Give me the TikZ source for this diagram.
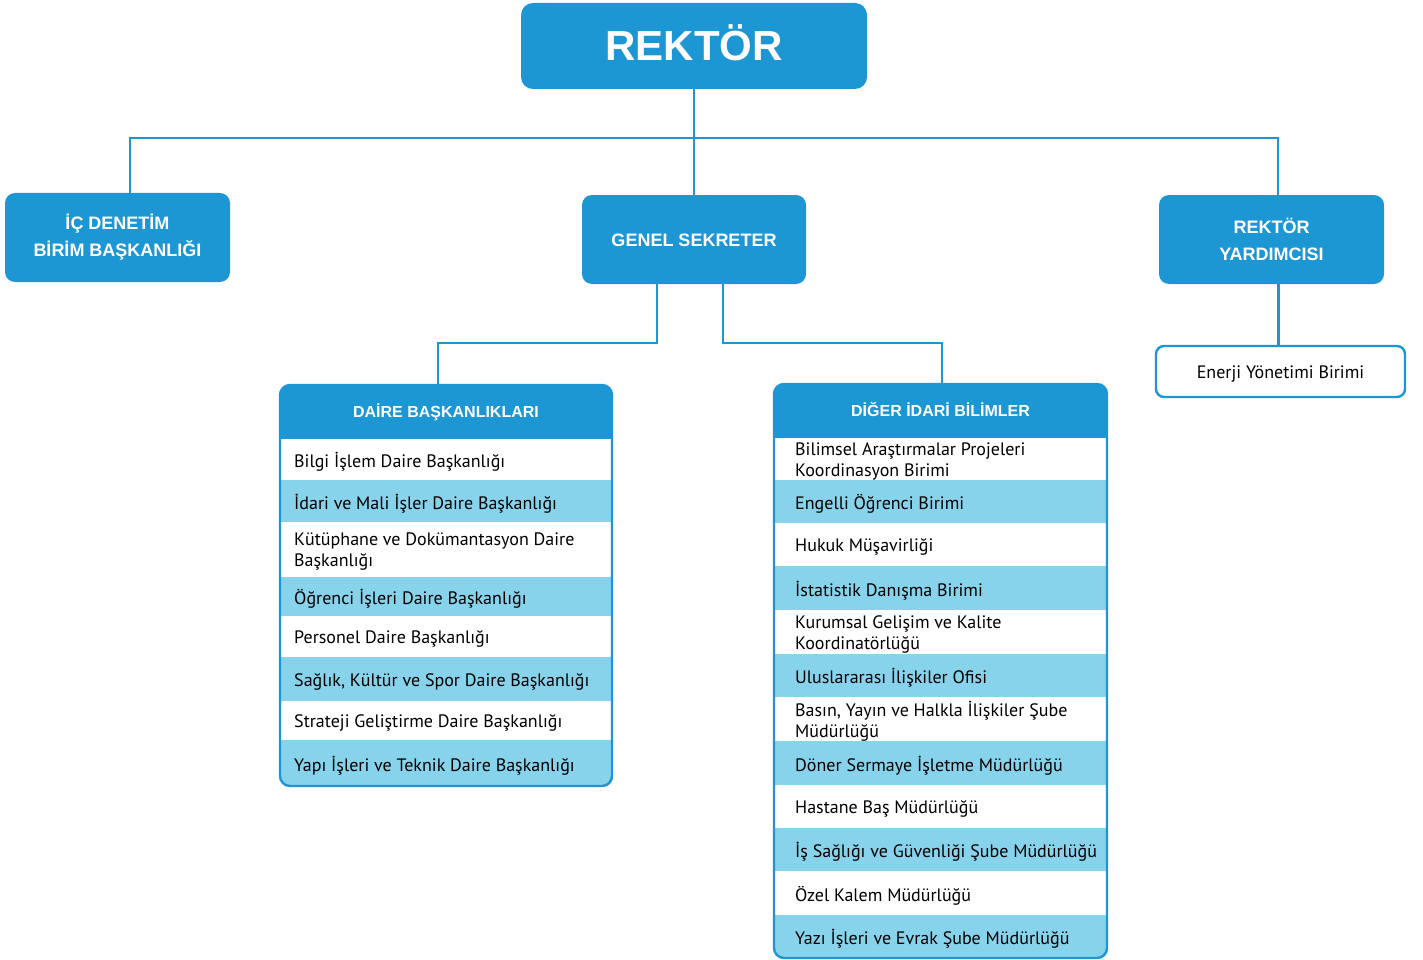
\documentclass[tikz,border=0pt]{standalone}
\usepackage{fontspec}
\newfontfamily\headfont{Liberation Sans}
\newfontfamily\listfont{PT Sans}
\usetikzlibrary{positioning}
\definecolor{orgblue}{RGB}{29,150,212}
\definecolor{rowblue}{RGB}{136,211,236}

\begin{document}
\begin{tikzpicture}[x=1pt, y=-1pt,
  conn/.style = {draw=orgblue, line width=2.4pt},
  unitbox/.style = {fill=orgblue, rounded corners=10pt, text=white, align=center,
    font=\headfont\bfseries\fontsize{18}{27}\selectfont},
  panelhead/.style = {fill=orgblue, text=white, text height=11.5pt, text depth=0pt,
    font=\headfont\bfseries\fontsize{16}{19}\selectfont},
  rowtext/.style = {anchor=west, align=left, inner sep=0pt, yshift=-2.5pt,
    font=\listfont\fontsize{18}{21}\selectfont}]
\useasboundingbox (0,0) rectangle (1423,960);

% top level
\node[unitbox, rounded corners=12pt, minimum width=346, minimum height=86, text height=30pt, text depth=0pt,
  font=\headfont\bfseries\fontsize{42}{48}\selectfont] (rektor) at (694,46) {REKTÖR};
\node[unitbox, minimum width=225, minimum height=89] (ic) at (117.5,237.5) {İÇ DENETİM\\BİRİM BAŞKANLIĞI};
\node[unitbox, minimum width=224, minimum height=89, text height=13pt, text depth=0pt] (gs) at (694,239.5) {GENEL SEKRETER};
\node[unitbox, minimum width=225, minimum height=89] (ry) at (1271.5,239.5) {REKTÖR\\YARDIMCISI};
\node[draw=orgblue, line width=2.4pt, fill=white, rounded corners=8pt, minimum width=249, minimum height=51,
  text height=13pt, text depth=0pt, font=\listfont\fontsize{18}{20}\selectfont] (en) at (1280.5,371.5) {Enerji Yönetimi Birimi};

% daire baskanliklari
\begin{scope}
\clip[rounded corners=10pt] (280,385) rectangle (612,786);
\node[panelhead, minimum width=332, minimum height=54] (daire) at (446,412) {DAİRE BAŞKANLIKLARI};
\foreach \top/\bot/\col/\txt [count=\i] in {
  439/480/white/{Bilgi İşlem Daire Başkanlığı},
  480/522/rowblue/{İdari ve Mali İşler Daire Başkanlığı},
  522/577/white/{Kütüphane ve Dokümantasyon Daire\\Başkanlığı},
  577/616/rowblue/{Öğrenci İşleri Daire Başkanlığı},
  616/657/white/{Personel Daire Başkanlığı},
  657/701/rowblue/{Sağlık, Kültür ve Spor Daire Başkanlığı},
  701/740/white/{Strateji Geliştirme Daire Başkanlığı},
  740/786/rowblue/{Yapı İşleri ve Teknik Daire Başkanlığı}}{
  \fill[\col] (280,\top) rectangle (612,\bot);
  \node[rowtext] (daire-\i) at (294,{(\top+\bot)/2}) {\txt};
}
\end{scope}
\draw[orgblue, line width=2.4pt, rounded corners=10pt] (280,385) rectangle (612,786);

% diger idari birimler
\begin{scope}
\clip[rounded corners=10pt] (774,384) rectangle (1107,958);
\node[panelhead, minimum width=333, minimum height=54] (diger) at (940.5,411) {DİĞER İDARİ BİLİMLER};
\foreach \top/\bot/\col/\txt [count=\i] in {
  438/480/white/{Bilimsel Araştırmalar Projeleri\\Koordinasyon Birimi},
  480/523/rowblue/{Engelli Öğrenci Birimi},
  523/566/white/{Hukuk Müşavirliği},
  566/610/rowblue/{İstatistik Danışma Birimi},
  610/654/white/{Kurumsal Gelişim ve Kalite\\Koordinatörlüğü},
  654/697/rowblue/{Uluslararası İlişkiler Ofisi},
  697/741/white/{Basın, Yayın ve Halkla İlişkiler Şube\\Müdürlüğü},
  741/785/rowblue/{Döner Sermaye İşletme Müdürlüğü},
  785/828/white/{Hastane Baş Müdürlüğü},
  828/871/rowblue/{İş Sağlığı ve Güvenliği Şube Müdürlüğü},
  871/915/white/{Özel Kalem Müdürlüğü},
  915/958/rowblue/{Yazı İşleri ve Evrak Şube Müdürlüğü}}{
  \fill[\col] (774,\top) rectangle (1107,\bot);
  \node[rowtext] (diger-\i) at (795,{(\top+\bot)/2}) {\txt};
}
\end{scope}
\draw[orgblue, line width=2.4pt, rounded corners=10pt] (774,384) rectangle (1107,958);

% connectors
\coordinate (bus) at (694,138);
\draw[conn] (rektor.south) -- (gs.north);
\draw[conn] ([xshift=12.5pt]ic.north) |- (bus) -| ([xshift=6.5pt]ry.north);
\draw[conn] ([xshift=-37pt]gs.south) -- ++(0,59) -| ([xshift=-8pt]daire.north);
\draw[conn] ([xshift=29pt]gs.south) -- ++(0,59) -| ([xshift=1.5pt]diger.north);
\draw[conn] ([xshift=7pt]ry.south) -- ([xshift=7pt]ry.south |- en.north);
\end{tikzpicture}
\end{document}
